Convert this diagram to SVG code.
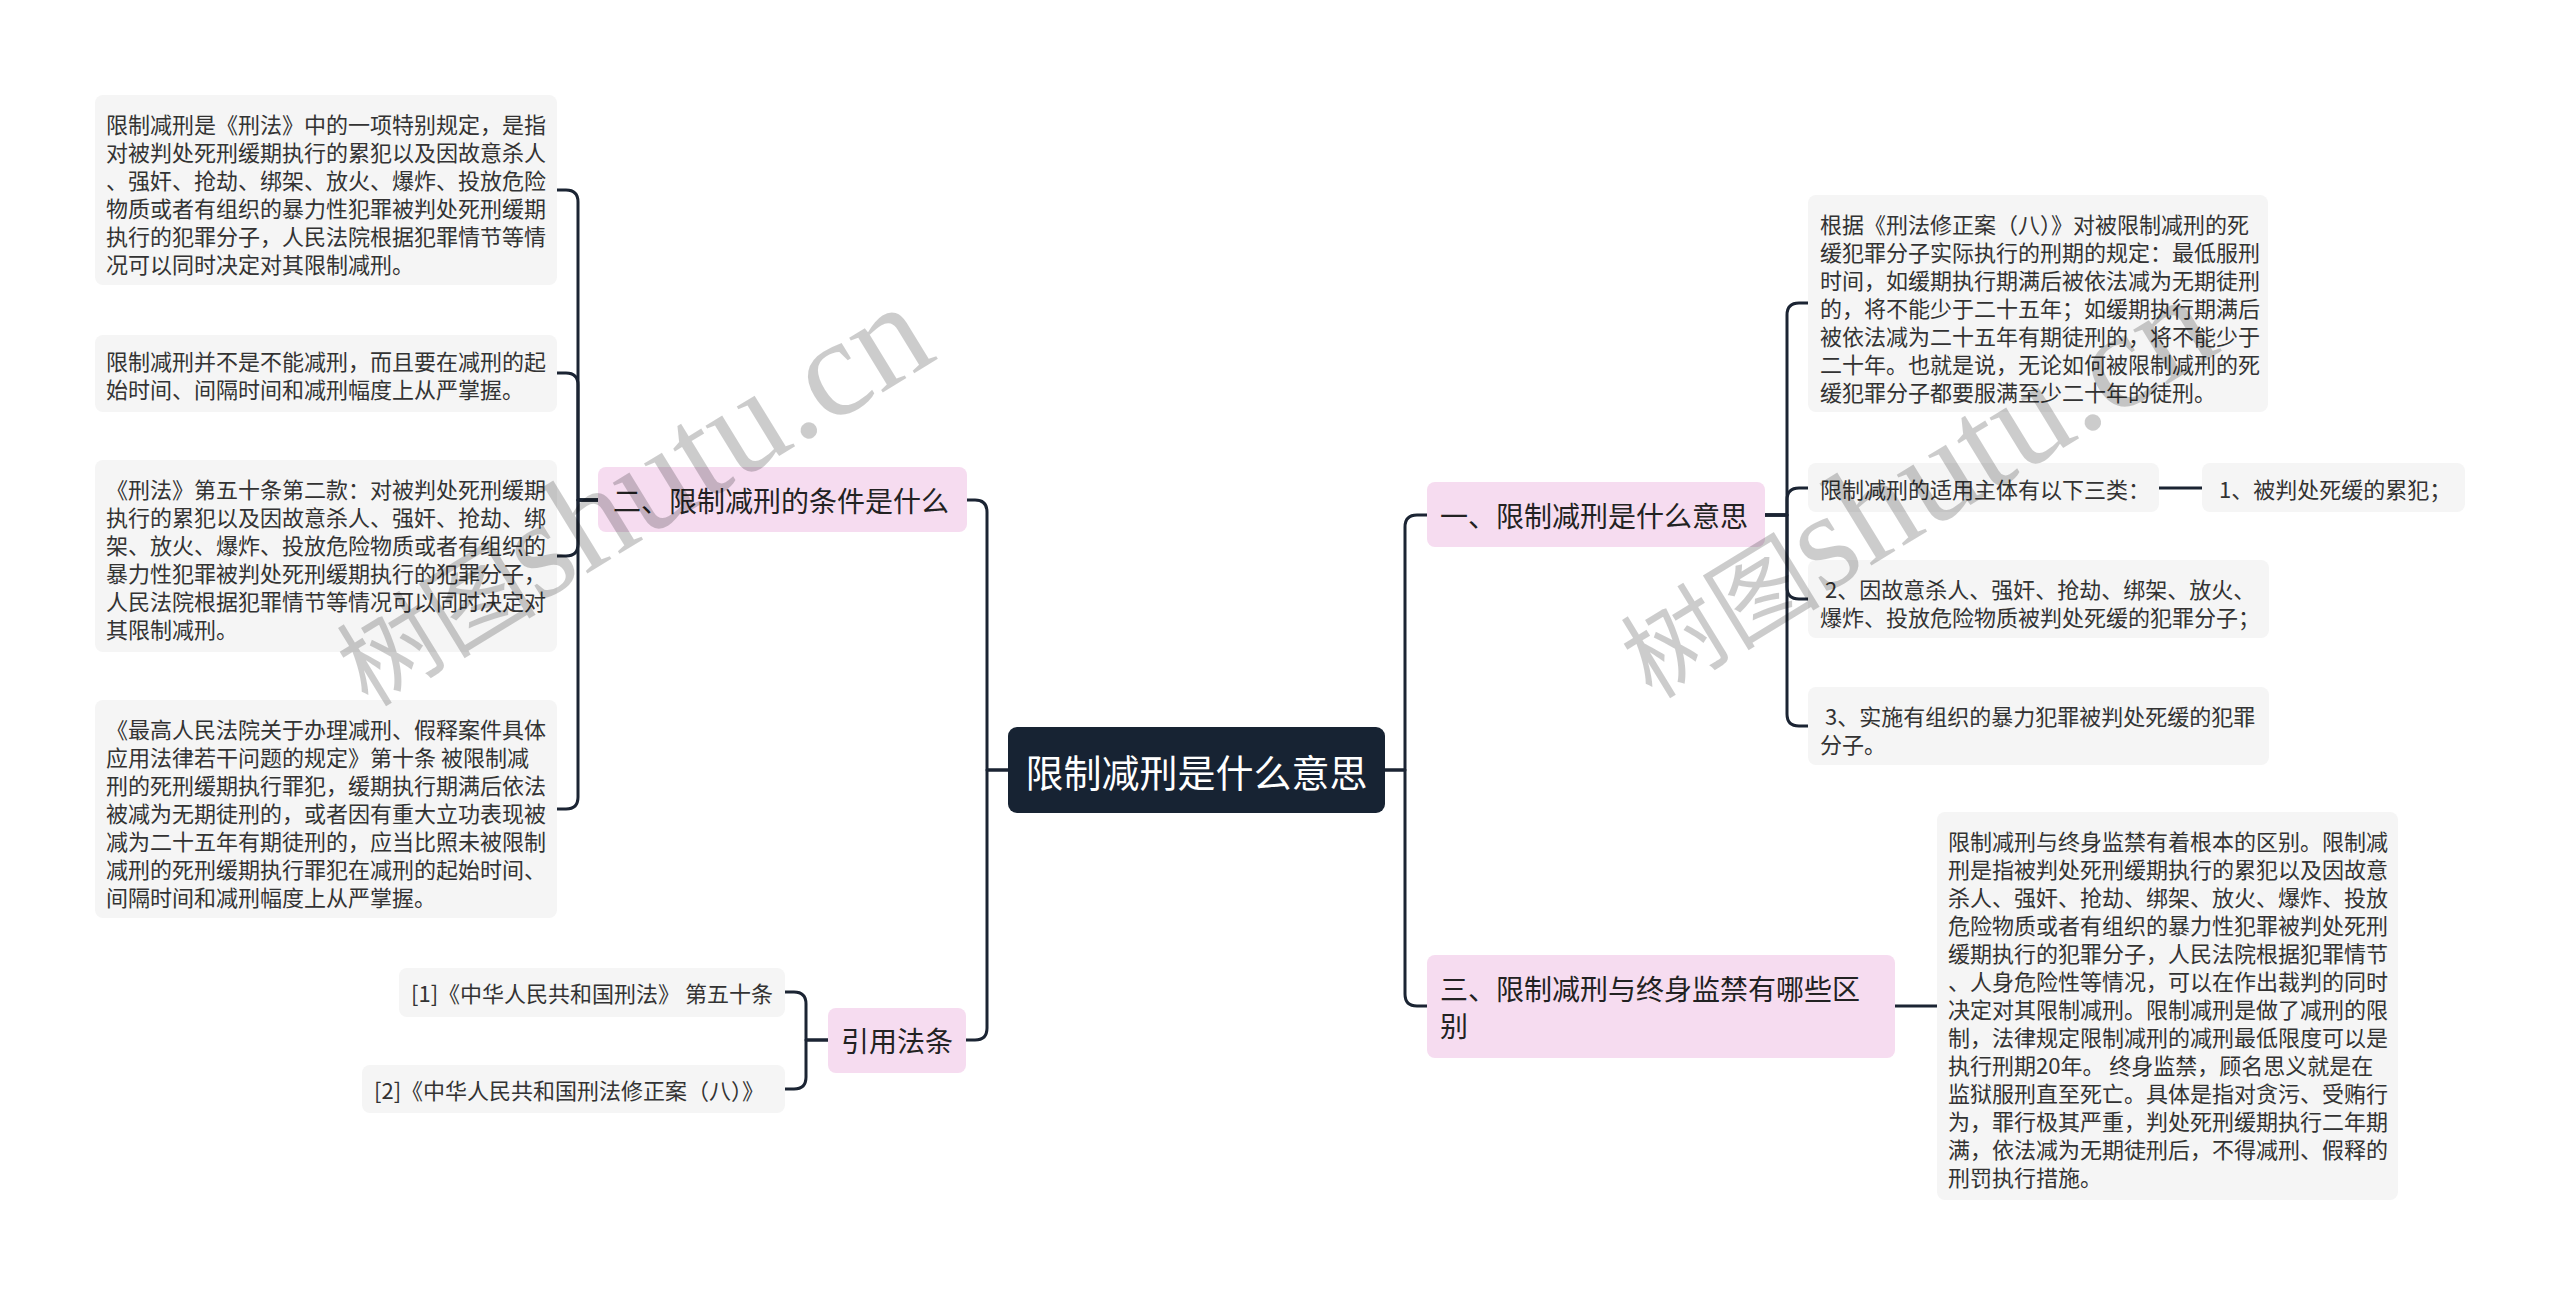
<svg xmlns="http://www.w3.org/2000/svg" width="2560" height="1297" viewBox="0 0 2560 1297">
<style>
.bg{fill:#ffffff}
.leaf{fill:#f5f5f5}
.topic{fill:#f6dcf0}
.root{fill:#172333}
.t{font-family:"Noto Sans CJK SC","Noto Sans",sans-serif;fill:#333333;dominant-baseline:central}
.s{font-size:22px}
.m{font-size:28px;fill:#222222}
.r{font-size:38px;fill:#ffffff;text-anchor:middle}
.c{fill:none;stroke:#1b2433;stroke-width:3;stroke-linecap:round;stroke-linejoin:round}
.wm{font-family:"Liberation Serif","Noto Sans CJK SC",serif;fill:#000000;fill-opacity:0.2}
</style>
<rect class="bg" x="0" y="0" width="2560" height="1297"/>

<g id="connectors">
<path class="c" d="M1008,770 H987 V512 Q987,500 975,500 H967"/>
<path class="c" d="M1008,770 H987 V1028 Q987,1040 975,1040 H966"/>
<path class="c" d="M598,500 H578 V202 Q578,190 566,190 H557"/>
<path class="c" d="M598,500 H578 V385 Q578,373 566,373 H557"/>
<path class="c" d="M598,500 H578 V544 Q578,556 566,556 H557"/>
<path class="c" d="M598,500 H578 V797 Q578,809 566,809 H557"/>
<path class="c" d="M828,1040 H806 V1004 Q806,992 794,992 H785"/>
<path class="c" d="M828,1040 H806 V1077 Q806,1089 794,1089 H785"/>
<path class="c" d="M1385,770 H1405 V527 Q1405,515 1417,515 H1427"/>
<path class="c" d="M1385,770 H1405 V994 Q1405,1006 1417,1006 H1427"/>
<path class="c" d="M1765,515 H1787 V315 Q1787,303 1799,303 H1808"/>
<path class="c" d="M1765,515 H1787 V500 Q1787,488 1799,488 H1808"/>
<path class="c" d="M1765,515 H1787 V587 Q1787,599 1799,599 H1808"/>
<path class="c" d="M1765,515 H1787 V714 Q1787,726 1799,726 H1808"/>
<path class="c" d="M2159,488 H2202"/>
<path class="c" d="M1895,1006 H1937"/>
</g>

<g id="root">
<rect class="root" x="1008" y="727" width="377" height="86" rx="9"/>
<text class="t r" x="1196.5" y="770">限制减刑是什么意思</text>
</g>

<g id="topic-2">
<rect class="topic" x="598" y="467" width="369" height="65" rx="8"/>
<text class="t m" x="613" y="500">二、限制减刑的条件是什么</text>
</g>

<g id="topic-ref">
<rect class="topic" x="828" y="1008" width="138" height="65" rx="8"/>
<text class="t m" x="841" y="1040">引用法条</text>
</g>

<g id="topic-1">
<rect class="topic" x="1427" y="482" width="338" height="65" rx="8"/>
<text class="t m" x="1440" y="515">一、限制减刑是什么意思</text>
</g>

<g id="topic-3">
<rect class="topic" x="1427" y="955" width="468" height="103" rx="8"/>
<text class="t m" x="1440" y="988">三、限制减刑与终身监禁有哪些区</text>
<text class="t m" x="1440" y="1025">别</text>
</g>

<g id="left-1">
<rect class="leaf" x="95" y="95" width="462" height="190" rx="8"/>
<text class="t s" x="106" y="123">限制减刑是《刑法》中的一项特别规定，是指</text>
<text class="t s" x="106" y="151">对被判处死刑缓期执行的累犯以及因故意杀人</text>
<text class="t s" x="106" y="179">、强奸、抢劫、绑架、放火、爆炸、投放危险</text>
<text class="t s" x="106" y="207">物质或者有组织的暴力性犯罪被判处死刑缓期</text>
<text class="t s" x="106" y="235">执行的犯罪分子，人民法院根据犯罪情节等情</text>
<text class="t s" x="106" y="263">况可以同时决定对其限制减刑。</text>
</g>

<g id="left-2">
<rect class="leaf" x="95" y="335" width="462" height="77" rx="8"/>
<text class="t s" x="106" y="360">限制减刑并不是不能减刑，而且要在减刑的起</text>
<text class="t s" x="106" y="388">始时间、间隔时间和减刑幅度上从严掌握。</text>
</g>

<g id="left-3">
<rect class="leaf" x="95" y="460" width="462" height="192" rx="8"/>
<text class="t s" x="106" y="488">《刑法》第五十条第二款：对被判处死刑缓期</text>
<text class="t s" x="106" y="516">执行的累犯以及因故意杀人、强奸、抢劫、绑</text>
<text class="t s" x="106" y="544">架、放火、爆炸、投放危险物质或者有组织的</text>
<text class="t s" x="106" y="572">暴力性犯罪被判处死刑缓期执行的犯罪分子，</text>
<text class="t s" x="106" y="600">人民法院根据犯罪情节等情况可以同时决定对</text>
<text class="t s" x="106" y="628">其限制减刑。</text>
</g>

<g id="left-4">
<rect class="leaf" x="95" y="700" width="462" height="218" rx="8"/>
<text class="t s" x="106" y="728">《最高人民法院关于办理减刑、假释案件具体</text>
<text class="t s" x="106" y="756">应用法律若干问题的规定》第十条 被限制减</text>
<text class="t s" x="106" y="784">刑的死刑缓期执行罪犯，缓期执行期满后依法</text>
<text class="t s" x="106" y="812">被减为无期徒刑的，或者因有重大立功表现被</text>
<text class="t s" x="106" y="840">减为二十五年有期徒刑的，应当比照未被限制</text>
<text class="t s" x="106" y="868">减刑的死刑缓期执行罪犯在减刑的起始时间、</text>
<text class="t s" x="106" y="896">间隔时间和减刑幅度上从严掌握。</text>
</g>

<g id="ref-1">
<rect class="leaf" x="399" y="968" width="386" height="49" rx="8"/>
<text class="t s" x="411" y="992">[1]《中华人民共和国刑法》 第五十条</text>
</g>

<g id="ref-2">
<rect class="leaf" x="362" y="1065" width="423" height="48" rx="8"/>
<text class="t s" x="374" y="1089">[2]《中华人民共和国刑法修正案（八）》</text>
</g>

<g id="right-1">
<rect class="leaf" x="1808" y="195" width="460" height="217" rx="8"/>
<text class="t s" x="1820" y="223">根据《刑法修正案（八）》对被限制减刑的死</text>
<text class="t s" x="1820" y="251">缓犯罪分子实际执行的刑期的规定：最低服刑</text>
<text class="t s" x="1820" y="279">时间，如缓期执行期满后被依法减为无期徒刑</text>
<text class="t s" x="1820" y="307">的，将不能少于二十五年；如缓期执行期满后</text>
<text class="t s" x="1820" y="335">被依法减为二十五年有期徒刑的，将不能少于</text>
<text class="t s" x="1820" y="363">二十年。也就是说，无论如何被限制减刑的死</text>
<text class="t s" x="1820" y="391">缓犯罪分子都要服满至少二十年的徒刑。</text>
</g>

<g id="right-2">
<rect class="leaf" x="1808" y="463" width="351" height="49" rx="8"/>
<text class="t s" x="1820" y="488">限制减刑的适用主体有以下三类：</text>
</g>

<g id="right-2a">
<rect class="leaf" x="2202" y="463" width="263" height="49" rx="8"/>
<text class="t s" x="2214" y="488" xml:space="preserve"> 1、被判处死缓的累犯；</text>
</g>

<g id="right-3">
<rect class="leaf" x="1808" y="560" width="461" height="78" rx="8"/>
<text class="t s" x="1820" y="588" xml:space="preserve"> 2、因故意杀人、强奸、抢劫、绑架、放火、</text>
<text class="t s" x="1820" y="616">爆炸、投放危险物质被判处死缓的犯罪分子；</text>
</g>

<g id="right-4">
<rect class="leaf" x="1808" y="687" width="461" height="78" rx="8"/>
<text class="t s" x="1820" y="715" xml:space="preserve"> 3、实施有组织的暴力犯罪被判处死缓的犯罪</text>
<text class="t s" x="1820" y="743">分子。</text>
</g>

<g id="right-5">
<rect class="leaf" x="1937" y="812" width="461" height="388" rx="8"/>
<text class="t s" x="1948" y="840">限制减刑与终身监禁有着根本的区别。限制减</text>
<text class="t s" x="1948" y="868">刑是指被判处死刑缓期执行的累犯以及因故意</text>
<text class="t s" x="1948" y="896">杀人、强奸、抢劫、绑架、放火、爆炸、投放</text>
<text class="t s" x="1948" y="924">危险物质或者有组织的暴力性犯罪被判处死刑</text>
<text class="t s" x="1948" y="952">缓期执行的犯罪分子，人民法院根据犯罪情节</text>
<text class="t s" x="1948" y="980">、人身危险性等情况，可以在作出裁判的同时</text>
<text class="t s" x="1948" y="1008">决定对其限制减刑。限制减刑是做了减刑的限</text>
<text class="t s" x="1948" y="1036">制，法律规定限制减刑的减刑最低限度可以是</text>
<text class="t s" x="1948" y="1064" xml:space="preserve">执行刑期20年。 终身监禁，顾名思义就是在</text>
<text class="t s" x="1948" y="1092">监狱服刑直至死亡。具体是指对贪污、受贿行</text>
<text class="t s" x="1948" y="1120">为，罪行极其严重，判处死刑缓期执行二年期</text>
<text class="t s" x="1948" y="1148">满，依法减为无期徒刑后，不得减刑、假释的</text>
<text class="t s" x="1948" y="1176">刑罚执行措施。</text>
</g>

<g id="watermarks">
<text class="wm" transform="translate(368,708) rotate(-31.5)"><tspan font-size="100">树图</tspan><tspan font-size="140">shutu.cn</tspan></text>
<text class="wm" transform="translate(1652,700) rotate(-31.5)"><tspan font-size="100">树图</tspan><tspan font-size="140">shutu.cn</tspan></text>
</g>
</svg>
